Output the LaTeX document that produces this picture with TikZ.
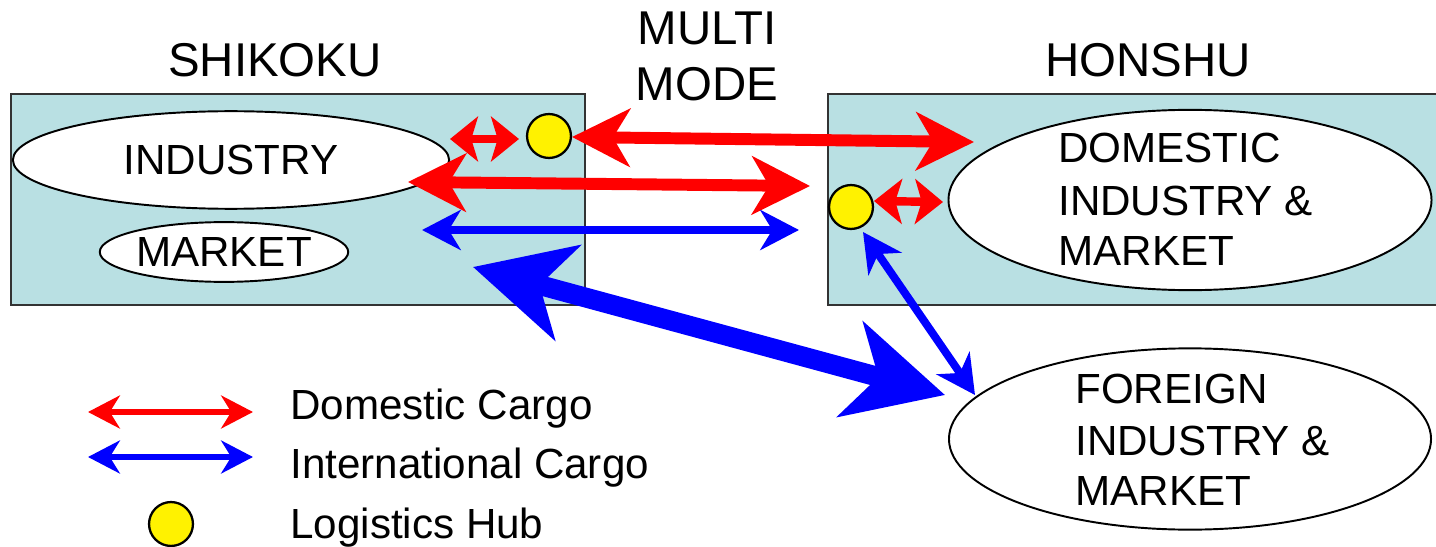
\documentclass[tikz,border=0pt]{standalone}
\usepackage{fontspec}
\setmainfont{Liberation Sans}
\usetikzlibrary{arrows.meta,shapes.geometric}
\definecolor{boxfill}{HTML}{B9E0E3}
\definecolor{boxline}{HTML}{333333}
\begin{document}
\begin{tikzpicture}[x=0.02cm,y=-0.02cm,
  region/.style={draw=boxline,line width=1.1pt,fill=boxfill},
  blob/.style={ellipse,draw=black,line width=1.1pt,fill=white,inner sep=0pt},
  hub/.style={circle,draw=black,line width=1.3pt,fill=yellow,inner sep=0pt,minimum size=25pt},
  headtxt/.style={font=\fontsize{27}{32}\selectfont,inner sep=0pt},
  bodytxt/.style={font=\fontsize{24}{29}\selectfont,inner sep=0pt},
  bigred/.style={draw=red,line width=6.8pt,>={Stealth[length=32.9pt,width=32.9pt,inset=9.6pt]},<->},
  smallred/.style={draw=red,line width=4.8pt,>={Stealth[length=15.9pt,width=25.5pt,inset=3.8pt]},<->},
  thinblue/.style={draw=blue,line width=4.5pt,>={Stealth[length=22pt,width=22.7pt,inset=6.8pt]},<->},
  bigblue/.style={draw=blue,line width=11.3pt,>={Stealth[length=55.6pt,width=55.6pt,inset=16.4pt]},<->},
  legred/.style={draw=red,line width=3.7pt,>={Stealth[length=18.1pt,width=18.7pt,inset=5.7pt]},<->},
  legblue/.style={legred,draw=blue}]
\useasboundingbox (0,0) rectangle (1436,547);

% regions
\draw[region] (11,94) rectangle (585,305);
\draw[region] (828,94) rectangle (1445,305);

% headings
\node[headtxt,anchor=base] (shikoku) at (275,77) {SHIKOKU};
\node[headtxt,anchor=base] (honshu) at (1148,77) {HONSHU};
\node[headtxt,anchor=base] (multi) at (707,45) {MULTI};
\node[headtxt,anchor=base] (mode) at (707,101) {MODE};

% ellipses
\node[blob,minimum width=438*0.5669pt,minimum height=98*0.5669pt,bodytxt] (industry) at (231,160) {INDUSTRY};
\node[blob,minimum width=243*0.5669pt,minimum height=60*0.5669pt,bodytxt] (market) at (224,252) {MARKET};
\node[blob,minimum width=485*0.5669pt,minimum height=181*0.5669pt] (domestic) at (1190,200) {};
\node[blob,minimum width=484*0.5669pt,minimum height=182*0.5669pt] (foreign) at (1190,439) {};

\node[bodytxt,anchor=base west] (dom1) at (1058,163) {DOMESTIC};
\node[bodytxt,anchor=base west] (dom2) at (1058,215) {INDUSTRY \&};
\node[bodytxt,anchor=base west] (dom3) at (1058,265) {MARKET};
\node[bodytxt,anchor=base west] (for1) at (1075,403) {FOREIGN};
\node[bodytxt,anchor=base west] (for2) at (1075,455) {INDUSTRY \&};
\node[bodytxt,anchor=base west] (for3) at (1075,505) {MARKET};

% hubs
\node[hub] (hub1) at (549,136) {};
\node[hub] (hub2) at (851,207) {};

% arrow end points
\coordinate (r1a) at (450,139);
\coordinate (r1b) at (519,139);
\coordinate (r2a) at (572,137);
\coordinate (r2b) at (974,142);
\coordinate (r3a) at (408,182);
\coordinate (r3b) at (810,186);
\coordinate (b1a) at (422,230);
\coordinate (b1b) at (799,230);
\coordinate (r4a) at (874,201);
\coordinate (r4b) at (943,202);
\coordinate (bba) at (473,267);
\coordinate (bbb) at (945,395);
\coordinate (b2a) at (863,232);
\coordinate (b2b) at (975,395);

\draw[smallred] (r1a) -- (r1b);
\draw[bigred] (r2a) -- (r2b);
\draw[bigred] (r3a) -- (r3b);
\draw[thinblue] (b1a) -- (b1b);
\draw[smallred] (r4a) -- (r4b);
\draw[bigblue] (bba) -- (bbb);
\draw[thinblue] (b2a) -- (b2b);

% legend
\coordinate (lra) at (88,412);
\coordinate (lrb) at (253,412);
\coordinate (lba) at (88,457);
\coordinate (lbb) at (253,457);
\draw[legred] (lra) -- (lrb);
\draw[legblue] (lba) -- (lbb);
\node[hub] (leghub) at (171,524) {};
\node[bodytxt,anchor=base west] (legdom) at (290,419) {Domestic Cargo};
\node[bodytxt,anchor=base west] (legint) at (290,478) {International Cargo};
\node[bodytxt,anchor=base west] (leghubtxt) at (290,538) {Logistics Hub};
\end{tikzpicture}
\end{document}
